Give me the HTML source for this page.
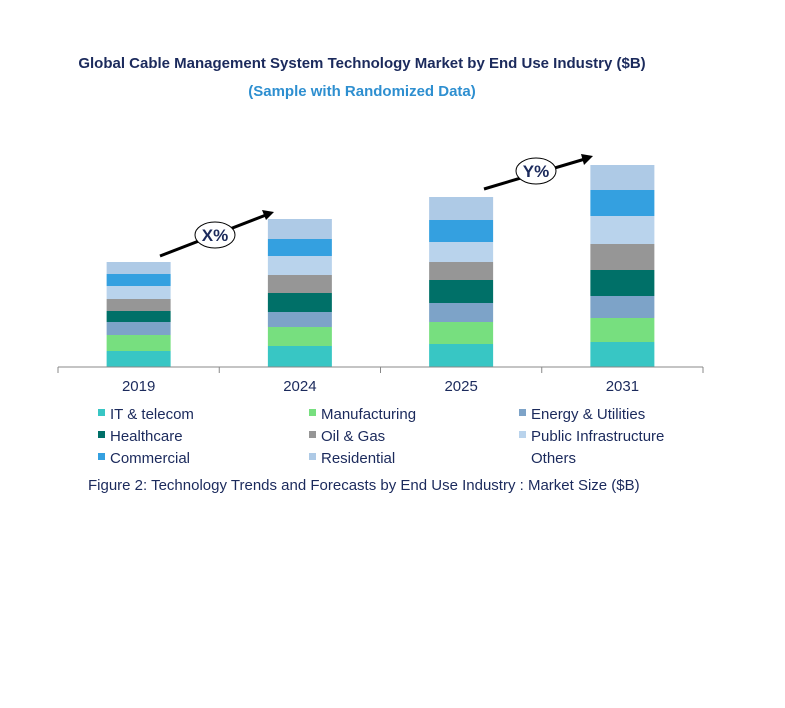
<!DOCTYPE html>
<html><head><meta charset="utf-8"><style>
body{margin:0;background:#fff;width:785px;height:703px;overflow:hidden;font-family:"Liberation Sans",sans-serif}
</style></head><body>
<svg width="785" height="703" font-family="Liberation Sans, sans-serif">
<text x="362" y="68" text-anchor="middle" font-size="15" font-weight="bold" fill="#1b2a5c">Global Cable Management System Technology Market by End Use Industry ($B)</text>
<text x="362" y="96" text-anchor="middle" font-size="15" font-weight="bold" fill="#2e8fd0">(Sample with Randomized Data)</text>
<g id="bars"></g>
<g id="axis"></g>
<g>
<line x1="160" y1="256" x2="266" y2="215" stroke="#000" stroke-width="3"/>
<polygon points="274,212 262,210 266,220" fill="#000"/>
<ellipse cx="215" cy="235" rx="20" ry="13" fill="#fff" stroke="#000" stroke-width="1"/>
<text x="215" y="241" text-anchor="middle" font-size="17" font-weight="bold" fill="#1b2a5c">X%</text>
</g>
<g>
<line x1="484" y1="189" x2="585" y2="159" stroke="#000" stroke-width="3"/>
<polygon points="593,156 581,154 584,165" fill="#000"/>
<ellipse cx="536" cy="171" rx="20" ry="13" fill="#fff" stroke="#000" stroke-width="1"/>
<text x="536" y="177" text-anchor="middle" font-size="17" font-weight="bold" fill="#1b2a5c">Y%</text>
</g>
<g id="legend"></g>
<text x="88" y="490" font-size="15" fill="#1b2a5c">Figure 2: Technology  Trends  and Forecasts by End Use Industry  : Market Size ($B)</text>
</svg>
<script>
const categories = ["2019","2024","2025","2031"];
const seriesNames = ["IT & telecom","Manufacturing","Energy & Utilities","Healthcare","Oil & Gas","Public Infrastructure","Commercial","Residential"];
const itTelecom = [16,21,23,25];
const manufacturing = [16,19,22,24];
const energy = [13,15,19,22];
const healthcare = [11,19,23,26];
const oilGas = [12,18,18,26];
const publicInfra = [13,19,20,28];
const commercial = [12,17,22,26];
const residential = [12,20,23,25];
const series = [itTelecom,manufacturing,energy,healthcare,oilGas,publicInfra,commercial,residential];
const colors = ["#38c6c4","#77df7f","#7da3c8","#007068","#969696","#b9d3ec","#34a0e0","#aecae6"];
const NS="http://www.w3.org/2000/svg";
const baseY=367, pxPerUnit=1.0, x0=58, x1=703, barW=64;
const band=(x1-x0)/categories.length;
const xC=i=>x0+band*(i+0.5);
const yS=v=>v*pxPerUnit;
const bars=document.getElementById('bars');
categories.forEach((c,i)=>{
  let cum=0;
  series.forEach((s,k)=>{
    const r=document.createElementNS(NS,'rect');
    const h=yS(s[i]);
    r.setAttribute('x',xC(i)-barW/2);
    r.setAttribute('y',baseY-yS(cum)-h);
    r.setAttribute('width',barW);
    r.setAttribute('height',h);
    r.setAttribute('fill',colors[k]);
    
    
    bars.appendChild(r);
    cum+=s[i];
  });
});
const axis=document.getElementById('axis');
const l=document.createElementNS(NS,'line');
l.setAttribute('x1',x0);l.setAttribute('x2',x1);l.setAttribute('y1',baseY);l.setAttribute('y2',baseY);
l.setAttribute('stroke','#888');


axis.appendChild(l);
for(let i=0;i<=categories.length;i++){
  const t=document.createElementNS(NS,'line');
  const x=x0+band*i;
  t.setAttribute('x1',x);t.setAttribute('x2',x);t.setAttribute('y1',baseY);t.setAttribute('y2',baseY+6);
  t.setAttribute('stroke','#888');
  
  
  axis.appendChild(t);
}
categories.forEach((c,i)=>{
  const t=document.createElementNS(NS,'text');
  t.setAttribute('x',xC(i));t.setAttribute('y',391);
  t.setAttribute('text-anchor','middle');t.setAttribute('font-size','15');t.setAttribute('fill','#1b2a5c');
  t.textContent=c;
  
  
  axis.appendChild(t);
});
const legend=document.getElementById('legend');
const cols=[100,311,521], rows=[419,441,463];
const entries=seriesNames.concat(["Others"]);
entries.forEach((n,k)=>{
  const g=document.createElementNS(NS,'g');
  
  
  const cx=cols[k%3], cy=rows[Math.floor(k/3)];
  if(k<colors.length){
    const r=document.createElementNS(NS,'rect');
    r.setAttribute('x',cx-2);r.setAttribute('y',cy-10);r.setAttribute('width',7);r.setAttribute('height',7);
    r.setAttribute('fill',colors[k]);
    g.appendChild(r);
  }
  const t=document.createElementNS(NS,'text');
  t.setAttribute('x',cx+10);t.setAttribute('y',cy);t.setAttribute('font-size','15');t.setAttribute('fill','#1b2a5c');
  t.textContent=n;
  g.appendChild(t);
  legend.appendChild(g);
});
</script>
</body></html>
